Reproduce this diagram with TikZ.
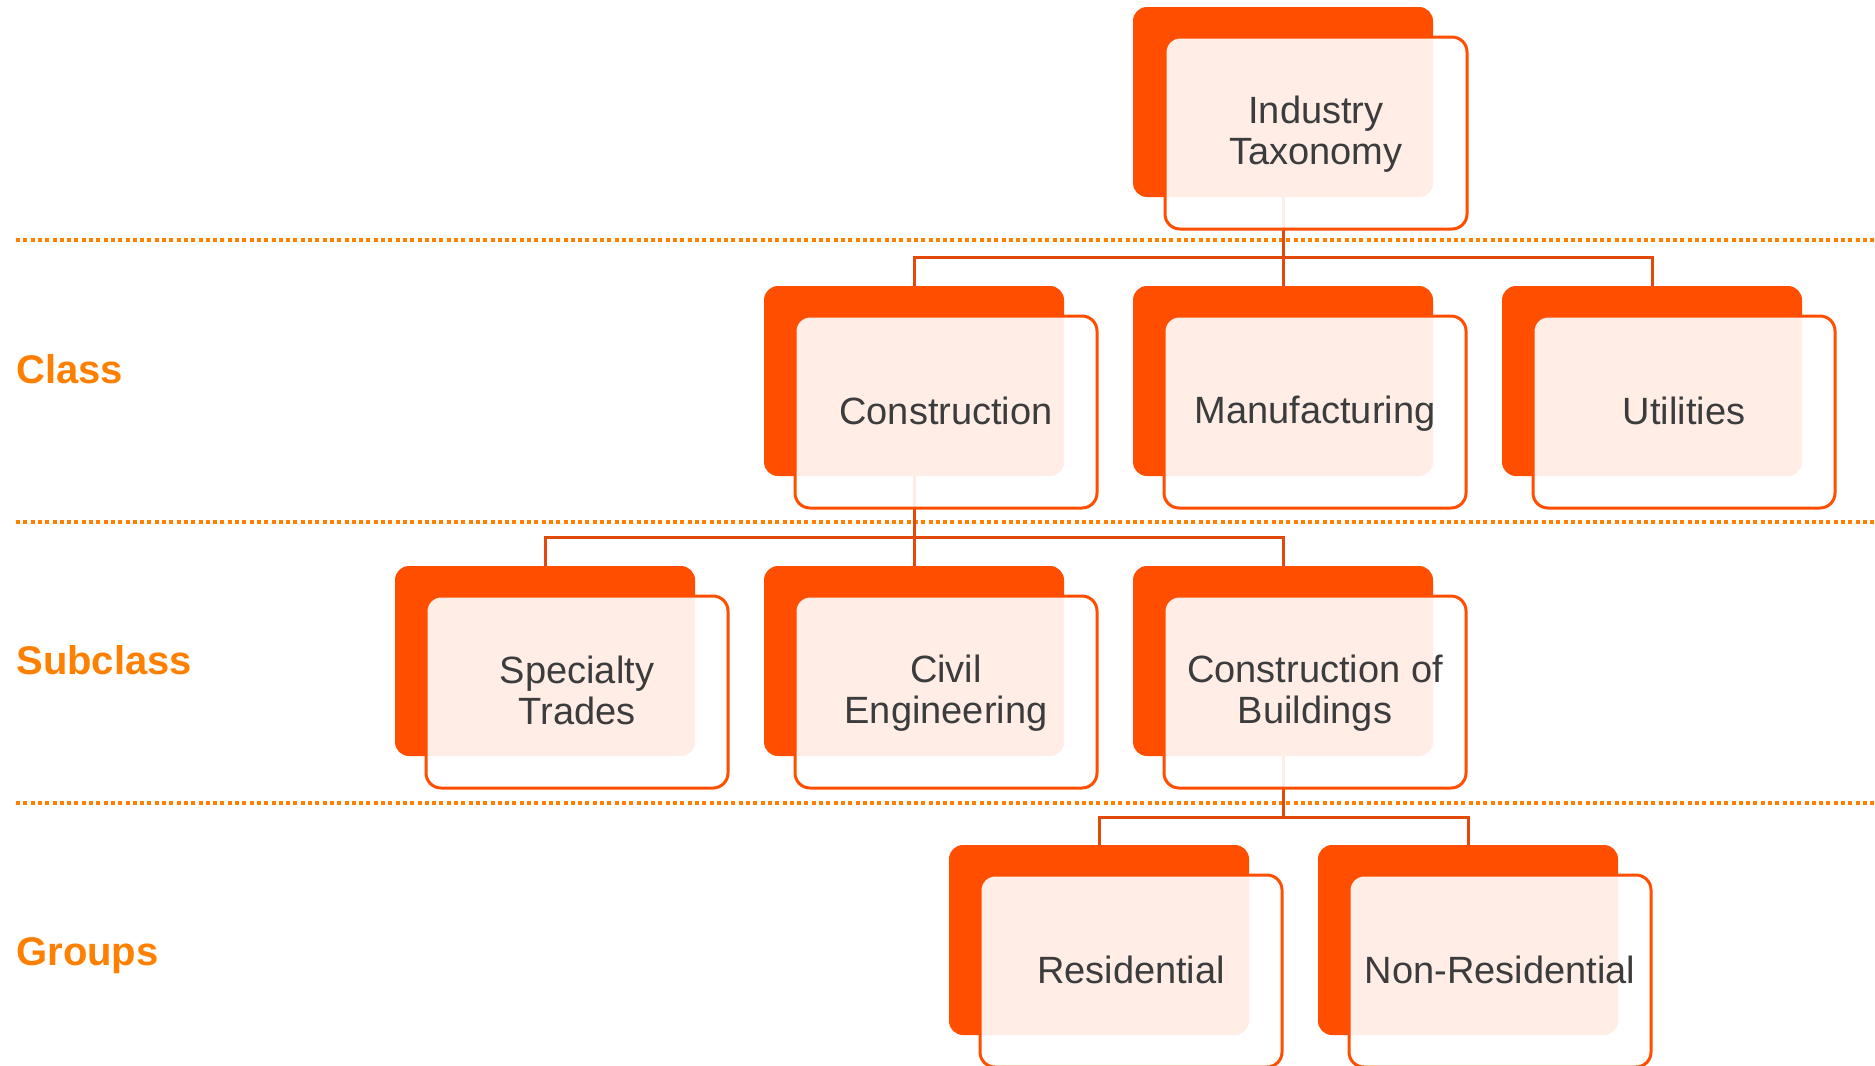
\documentclass[tikz,border=0pt]{standalone}
\usepackage{fontspec}
\setmainfont{Liberation Sans}
\definecolor{boxor}{HTML}{FF4E00}
\definecolor{connor}{HTML}{E24A0C}
\definecolor{dotor}{HTML}{FF8000}
\definecolor{labor}{HTML}{FF7F00}
\definecolor{txt}{HTML}{3C3C3C}
\newcommand\tstrut{\rule[-3pt]{0pt}{18.2pt}}
\begin{document}
\begin{tikzpicture}[x=0.5pt,y=-0.5pt,
  backbox/.style={fill=boxor, draw=none, rounded corners=7pt, minimum width=150pt, minimum height=95pt, inner sep=0pt},
  frontbox/.style={fill=white, fill opacity=0.9, text opacity=1, draw=boxor, line width=1.5pt, rounded corners=7.5pt, minimum width=151pt, minimum height=96pt, inner sep=0pt, text=txt, align=center, font=\fontsize{19}{20.5}\selectfont},
  levellabel/.style={anchor=west, inner sep=0pt, text=labor, font=\fontsize{20}{24}\selectfont\bfseries},
  sepline/.style={draw=dotor, line width=2pt, dash pattern=on 2pt off 1.65pt},
  conn/.style={draw=connor, line width=1.5pt}]
\useasboundingbox (0,0) rectangle (1875,1066);
% separators
\coordinate (s1a) at (16,240); \coordinate (s1b) at (1875,240);
\coordinate (s2a) at (16,522); \coordinate (s2b) at (1875,522);
\coordinate (s3a) at (16,803); \coordinate (s3b) at (1875,803);
\draw[sepline] (s1a) -- (s1b);
\draw[sepline] (s2a) -- (s2b);
\draw[sepline] (s3a) -- (s3b);
% level labels
\node[levellabel] (lclass) at (16,369) {Class};
\node[levellabel] (lsub) at (16,660) {Subclass};
\node[levellabel] (lgroups) at (16,956) {Groups};
% back boxes
\node[backbox] (top-b) at (1283,102) {};
\node[backbox] (cons-b) at (914,381) {};
\node[backbox] (manu-b) at (1283,381) {};
\node[backbox] (util-b) at (1652,381) {};
\node[backbox] (spec-b) at (545,661) {};
\node[backbox] (civil-b) at (914,661) {};
\node[backbox] (bldg-b) at (1283,661) {};
\node[backbox] (res-b) at (1099,940) {};
\node[backbox] (nonres-b) at (1468,940) {};
% connectors
\coordinate (bus1) at (1283,257);
\coordinate (bus2) at (914,537);
\coordinate (bus3) at (1283,817);
\draw[conn] (top-b.south) -- (bus1) -| (cons-b.north);
\draw[conn] (bus1) -| (util-b.north);
\draw[conn] (bus1) -- (manu-b.north);
\draw[conn] (cons-b.south) -- (bus2) -| (spec-b.north);
\draw[conn] (bus2) -| (bldg-b.north);
\draw[conn] (bus2) -- (civil-b.north);
\draw[conn] (bldg-b.south) -- (bus3) -| (res-b.north);
\draw[conn] (bus3) -| (nonres-b.north);
% front boxes with text
\node[frontbox] (top) at (1316,133) {Industry\tstrut\\Taxonomy\tstrut};
\node[frontbox] (cons) at (946,412) {Construction\tstrut};
\node[frontbox] (manu) at (1315,412) {Manufacturing\tstrut};
\node[frontbox] (util) at (1684,412) {Utilities\tstrut};
\node[frontbox] (spec) at (577,692) {Specialty\tstrut\\Trades\tstrut};
\node[frontbox] (civil) at (946,692) {Civil\tstrut\\Engineering\tstrut};
\node[frontbox] (bldg) at (1315,692) {Construction of\tstrut\\Buildings\tstrut};
\node[frontbox] (res) at (1131,971) {Residential\tstrut};
\node[frontbox] (nonres) at (1500,971) {Non-Residential\tstrut};
\end{tikzpicture}
\end{document}
